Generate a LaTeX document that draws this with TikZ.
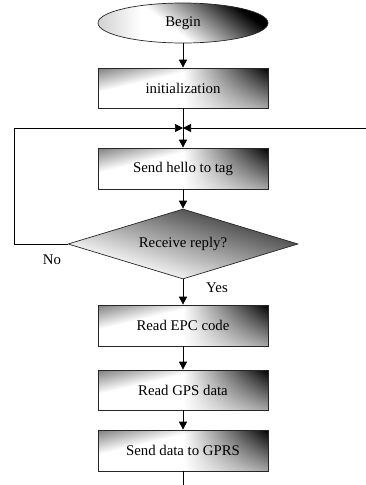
\documentclass[tikz,border=0pt]{standalone}
\usepackage{fontspec}
\setmainfont{Liberation Serif}
\usetikzlibrary{arrows.meta,shapes.geometric}
\pgfdeclarefunctionalshading{boxshade}{\pgfpointorigin}{\pgfpoint{100bp}{100bp}}{}{
 50 div 0.5 sub exch 50 div 0.5 sub
 dup 0.5 sub 2 mul dup 0 lt {pop 0} if dup 1 gt {pop 1} if
 2 index dup 0 lt {pop 0} if dup 1 gt {pop 1} if 0.65 mul 0.35 add mul
 3 1 roll sub 0.4 sub 0.6 div dup 0 lt {pop 0} if dup 1 gt {pop 1} if 0.5 mul
 add dup 1 gt {pop 1} if 1 exch sub dup dup
}
\pgfdeclarefunctionalshading{ellshade}{\pgfpointorigin}{\pgfpoint{100bp}{100bp}}{}{
 50 div 0.5 sub exch 50 div 0.5 sub
 dup 0.25 sub 0.25 div neg dup 0 lt {pop 0} if dup 1 gt {pop 1} if 0.18 mul
 3 1 roll
 exch 0.5 sub 0.3 mul add 0.4 sub 0.55 div dup 0 lt {pop 0} if dup 1 gt {pop 1} if
 add dup 1 gt {pop 1} if 1 exch sub dup dup
}
\pgfdeclarefunctionalshading{diashade}{\pgfpointorigin}{\pgfpoint{100bp}{100bp}}{}{
 add 100 div 0.7 sub 1.2 mul 1 exch sub dup 0 lt {pop 0} if dup 1 gt {pop 1} if dup dup
}
\begin{document}
\begin{tikzpicture}[x=1pt,y=1pt,
  every node/.style={font=\fontsize{14.8}{17}\selectfont},
  proc/.style={rectangle, draw=black!85, line width=0.7pt, shade, shading=boxshade,
    minimum width=170pt, minimum height=40pt, inner sep=0pt},
  term/.style={ellipse, draw=black!85, line width=0.7pt, shade, shading=ellshade,
    minimum width=170pt, minimum height=40pt, inner sep=0pt},
  decide/.style={diamond, draw=black!85, line width=0.7pt, shade, shading=diashade,
    minimum width=230pt, minimum height=70pt, inner sep=0pt, shape aspect=3.3},
  arr/.style={-{Triangle[width=8pt,length=8pt]}, line width=0.7pt},
  ln/.style={line width=0.7pt},
  lbl/.style={inner sep=0pt}]
\useasboundingbox (0,0) rectangle (366,-485);
\node[term] (begin) at (183,-23) {Begin};
\node[proc] (init) at (183,-88) {initialization};
\coordinate (j) at (183,-128);
\node[proc, minimum height=41pt] (hello) at (183,-168.5) {Send hello to tag};
\node[decide] (dec) at (183,-244) {Receive reply?};
\node[proc, minimum height=41pt] (epc) at (183,-325.5) {Read EPC code};
\node[proc] (gps) at (183,-390) {Read GPS data};
\node[proc, minimum height=41pt] (gprs) at (183,-450.5) {Send data to GPRS};
\coordinate (lc) at (14,-128);
\coordinate (rc) at (366,-128);
\coordinate (endpt) at (183,-485);
\node[lbl] (no) at (52,-260) {No};
\node[lbl] (yes) at (217,-288) {Yes};
\draw[arr] (begin) -- (init);
\draw[ln] (init) -- (j);
\draw[arr] (j) -- (hello);
\draw[arr] (hello) -- (dec);
\draw[arr] (dec) -- (epc);
\draw[arr] (epc) -- (gps);
\draw[arr] (gps) -- (gprs);
\draw[ln] (gprs) -- (endpt);
\draw[arr] (dec.west) -| (lc) -- (j);
\draw[arr] (rc) -- (j);
\end{tikzpicture}
\end{document}
